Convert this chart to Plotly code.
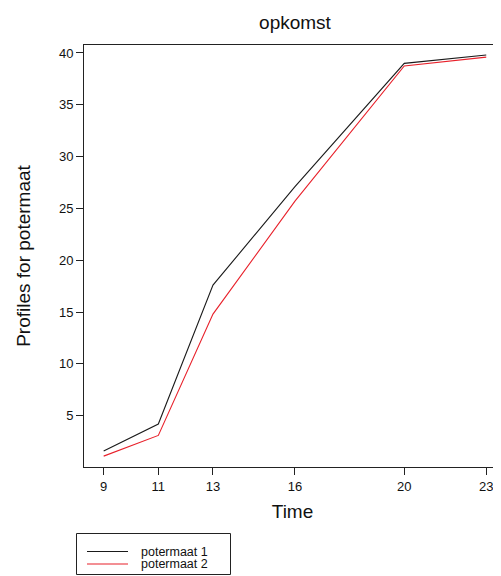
import plotly.graph_objects as go

time = [9, 11, 13, 16, 20, 23]
series_names = ["potermaat 1", "potermaat 2"]
potermaat_1 = [1.6, 4.2, 17.6, 27.1, 39.0, 39.8]
potermaat_2 = [1.1, 3.1, 14.8, 25.7, 38.75, 39.6]
colors = ["#1a1a1a", "#e8202a"]
x_ticks = [9, 11, 13, 16, 20, 23]
y_ticks = [5, 10, 15, 20, 25, 30, 35, 40]

FONT = "Liberation Sans, Arial, sans-serif"

# page is offset by the 8px body margin, so work in figure pixels = page - 8
OFF = 8
W, H = 501 - OFF, 576 - OFF
L, T = 84 - OFF, 45 - OFF
B = H - (467 - OFF)
pw = W - L
ph = H - T - B

def px_x(p):
    return (p - OFF - L) / pw

def px_y(p):
    return (H - B - (p - OFF)) / ph

fig = go.Figure()
for name, vals, col in zip(series_names, [potermaat_1, potermaat_2], colors):
    fig.add_trace(go.Scatter(x=time, y=vals, mode="lines", name=name,
                             line=dict(color=col, width=1.1), showlegend=False))

# manual legend (R-style box)
fig.add_shape(type="rect", xref="paper", yref="paper",
              x0=px_x(76.5), x1=px_x(230.5), y0=px_y(574.5), y1=px_y(533.5),
              line=dict(color="#222", width=1), fillcolor="white")
for i, (name, col) in enumerate(zip(series_names, colors)):
    yy = 551.5 + i * 12.5
    fig.add_shape(type="line", xref="paper", yref="paper",
                  x0=px_x(87), x1=px_x(128), y0=px_y(yy), y1=px_y(yy),
                  line=dict(color=col, width=1.1))
    fig.add_annotation(xref="paper", yref="paper", x=px_x(140), y=px_y(yy),
                       text=name, showarrow=False, xanchor="left", yanchor="middle",
                       borderpad=0,
                       font=dict(family=FONT, size=12.5, color="#111"))

fig.update_layout(
    width=W, height=H,
    margin=dict(l=L, r=0, t=T, b=B),
    paper_bgcolor="white", plot_bgcolor="white",
    font=dict(family=FONT, color="#111"),
    title=dict(text="opkomst", x=(295 - OFF) / W, xanchor="center",
               y=1 - (22 - OFF) / H, yanchor="middle", yref="container",
               font=dict(family=FONT, size=19, color="#111")),
)
fig.update_xaxes(range=[8.28, 23.54], tickvals=x_ticks, ticktext=[str(v) for v in x_ticks],
                 showgrid=False, zeroline=False, showline=True, linecolor="#222", linewidth=1,
                 mirror=True, ticks="outside", ticklen=7, tickcolor="#222",
                 tickfont=dict(family=FONT, size=13, color="#111"),
                 title=dict(text="Time", font=dict(family=FONT, size=19, color="#111"), standoff=12))
fig.update_yaxes(range=[0.05, 40.77], tickvals=y_ticks, ticktext=[str(v) for v in y_ticks],
                 showgrid=False, zeroline=False, showline=True, linecolor="#222", linewidth=1,
                 ticks="outside", ticklen=7, tickcolor="#222",
                 tickfont=dict(family=FONT, size=13, color="#111"),
                 title=dict(text="Profiles for potermaat", font=dict(family=FONT, size=19, color="#111"), standoff=23))

fig.write_html("out.html")
